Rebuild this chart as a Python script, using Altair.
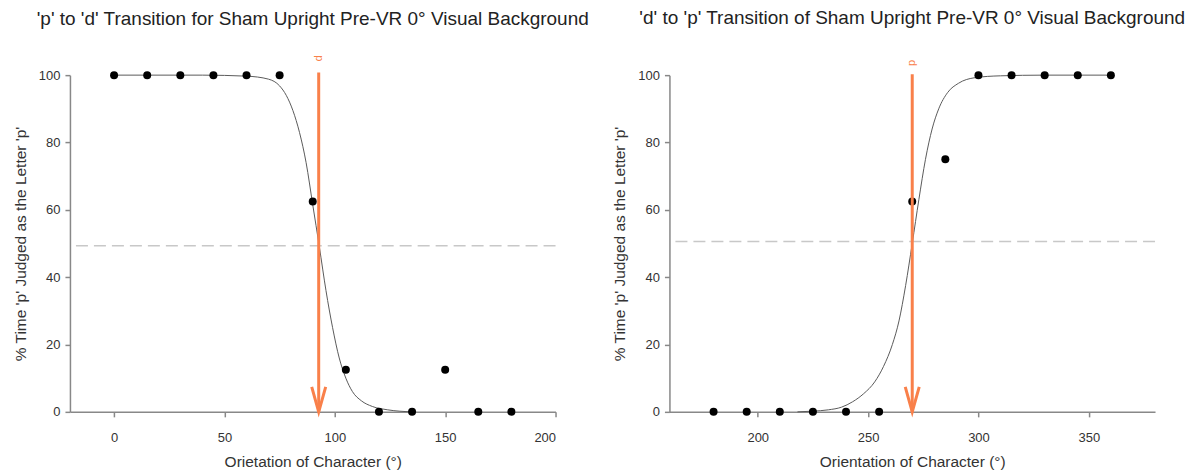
import altair as alt
import pandas as pd

# ---- data ----
left_x = [0, 15, 30, 45, 60, 75, 90, 105, 120, 135, 150, 165, 180]
left_y = [100, 100, 100, 100, 100, 100, 62.5, 12.5, 0, 0, 12.5, 0, 0]
right_x = [180, 195, 210, 225, 240, 255, 270, 285, 300, 315, 330, 345, 360]
right_y = [0, 0, 0, 0, 0, 0, 62.5, 75, 100, 100, 100, 100, 100]

# fitted sigmoid curves
left_fit_x = [0, 40, 60, 70, 75, 78, 81, 84, 87, 90, 93, 96, 99, 102, 105, 108, 112, 117, 124, 135]
left_fit_y = [100, 100, 99.7, 98.8, 96.8, 94, 89.5, 83, 74, 61.5, 49, 36, 25, 16, 10, 6, 3.3, 1.6, 0.6, 0]
right_fit_x = [218, 225, 232, 238, 243, 248, 253, 257, 261, 264, 267, 270, 273, 276, 279, 282, 286, 291, 298, 310, 330, 360]
right_fit_y = [0, 0.2, 0.6, 1.4, 3, 5.4, 8.9, 13.5, 20, 27, 37.5, 50, 63, 75, 84, 90, 94.8, 97.6, 99.2, 99.8, 100, 100]

left_ref = 49.3
right_ref = 50.6
left_arrow_x = 92.7
right_arrow_x = 270
left_arrow_top = 100.8
right_arrow_top = 100.3
left_label_y = 105.0
right_label_y = 103.6
arrow_label = "p"

y_ticks = [0, 20, 40, 60, 80, 100]
left_x_ticks = [0, 50, 100, 150, 200]
right_x_ticks = [200, 250, 300, 350]
left_domain = [-20, 200]
right_domain = [160, 380]

left_title = "'p' to 'd' Transition for Sham Upright Pre-VR 0° Visual Background"
right_title = "'d' to 'p' Transition of Sham Upright Pre-VR 0° Visual Background"
left_xtitle = "Orietation of Character (°)"
right_xtitle = "Orientation of Character (°)"
y_title = "% Time 'p' Judged as the Letter 'p'"

FONT = "Liberation Sans"
ORANGE = "#F9804A"
W, H = 486, 337


def panel(px, py, fx, fy, ref, ax, atop, ly, angle, xdom, xticks, title, xtitle, toff):
    xs = alt.Scale(domain=xdom, nice=False, zero=False)
    ys = alt.Scale(domain=[0, 100], nice=False)
    xa = alt.Axis(values=xticks, title=xtitle, labelPadding=15, titlePadding=10)
    ya = alt.Axis(values=y_ticks, title=y_title, labelPadding=5, titlePadding=10)

    pts = pd.DataFrame({"x": px, "y": py})
    fit = pd.DataFrame({"x": fx, "y": fy})
    refdf = pd.DataFrame({"y": [ref]})
    arr = pd.DataFrame({"x": [ax], "y": [0], "y2": [atop]})
    lab = pd.DataFrame({"x": [ax], "y": [ly], "t": [arrow_label]})

    dashed = alt.Chart(refdf).mark_rule(
        color="#C8C8C8", strokeWidth=1.5, strokeDash=[12, 6]
    ).encode(y=alt.Y("y:Q", scale=ys, axis=ya))

    curve = alt.Chart(fit).mark_line(
        color="#5a5a5a", strokeWidth=1, interpolate="monotone"
    ).encode(x=alt.X("x:Q", scale=xs, axis=xa), y=alt.Y("y:Q", scale=ys, axis=ya))

    dots = alt.Chart(pts).mark_circle(
        size=64, color="black", opacity=1
    ).encode(x=alt.X("x:Q", scale=xs, axis=xa), y=alt.Y("y:Q", scale=ys, axis=ya))

    shaft = alt.Chart(arr).mark_rule(
        color=ORANGE, strokeWidth=3
    ).encode(x=alt.X("x:Q", scale=xs, axis=xa), y=alt.Y("y:Q", scale=ys, axis=ya), y2="y2:Q")

    head = alt.Chart(arr).mark_point(
        shape="M-0.28,-1L0,0L0.28,-1", size=2500, filled=False,
        stroke=ORANGE, strokeWidth=3, opacity=1, strokeJoin="miter"
    ).encode(x=alt.X("x:Q", scale=xs, axis=xa), y=alt.Y("y:Q", scale=ys, axis=ya))

    label = alt.Chart(lab).mark_text(
        color=ORANGE, font=FONT, fontSize=11, angle=angle, align="center", baseline="middle"
    ).encode(x=alt.X("x:Q", scale=xs, axis=xa), y=alt.Y("y:Q", scale=ys, axis=ya), text="t:N")

    return alt.layer(dashed, curve, dots, shaft, head, label).properties(
        width=W, height=H,
        title=alt.TitleParams(title, font=FONT, fontSize=19, fontWeight="normal",
                              color="#222222", anchor="middle", offset=toff),
    )


left = panel(left_x, left_y, left_fit_x, left_fit_y, left_ref, left_arrow_x, left_arrow_top,
             left_label_y, 90, left_domain, left_x_ticks, left_title, left_xtitle, 26)
right = panel(right_x, right_y, right_fit_x, right_fit_y, right_ref, right_arrow_x, right_arrow_top,
              right_label_y, 270, right_domain, right_x_ticks, right_title, right_xtitle, 32)

chart = alt.hconcat(left, right, spacing=114, bounds="flush").properties(
    padding={"left": 5, "top": 0, "right": 0, "bottom": 0}
).configure_view(stroke=None).configure_axis(
    grid=False, domainColor="#888888", domainWidth=1.5, tickColor="#888888", tickWidth=1.5,
    tickSize=5, labelFont=FONT, labelFontSize=13, labelColor="#333333",
    titleFont=FONT, titleFontSize=15.5, titleFontWeight="normal", titleColor="#333333",
)

chart.save("out.html", embed_options={"renderer": "svg", "actions": False})
